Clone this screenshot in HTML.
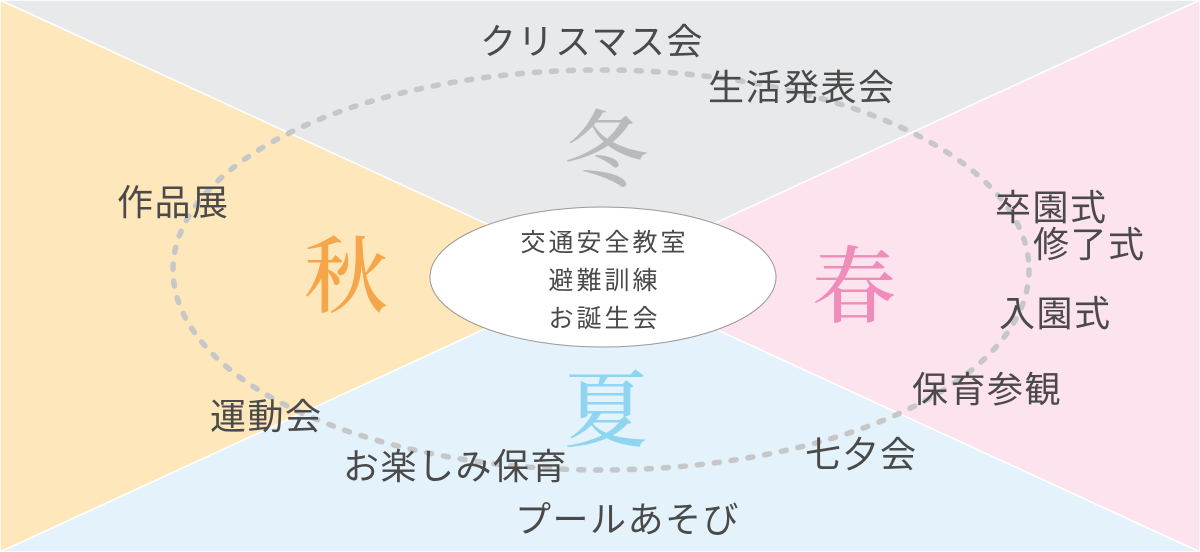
<!DOCTYPE html>
<html><head><meta charset="utf-8">
<style>
html,body{margin:0;padding:0;}
body{width:1200px;height:552px;position:relative;overflow:hidden;font-family:"Liberation Sans","Noto Sans CJK JP",sans-serif;color:#4a4a4a;}
.l{position:absolute;font-size:36px;line-height:40px;white-space:nowrap;letter-spacing:1.5px;}
.s{position:absolute;font-family:"Noto Serif CJK SC","Noto Serif CJK JP",serif;font-size:84px;line-height:90px;font-weight:500;}
.c{position:absolute;left:430px;top:207px;width:346px;height:140px;text-align:center;font-size:25px;line-height:38px;letter-spacing:3px;box-sizing:border-box;padding-top:17px;padding-left:3px;}
</style></head><body>
<svg width="1200" height="552" style="position:absolute;left:0;top:0">
<polygon points="0,0 1200,0 600,276" fill="#e8e9eb" stroke="#fff" stroke-width="1.5"/>
<polygon points="0,0 600,276 0,552" fill="#fde7bb" stroke="#fff" stroke-width="1.5"/>
<polygon points="1200,0 1200,552 600,276" fill="#fce3ee" stroke="#fff" stroke-width="1.5"/>
<polygon points="0,552 600,276 1200,552" fill="#e4f3fb" stroke="#fff" stroke-width="1.5"/>
<ellipse cx="601" cy="270" rx="428" ry="200" fill="none" stroke="#c6c7c9" stroke-width="5.5" stroke-linecap="round" stroke-dasharray="5 12"/>
<ellipse cx="603" cy="277" rx="173" ry="70" fill="#fff" stroke="#999" stroke-width="1"/>
</svg>
<div class="s" style="left:564px;top:100px;color:#b9babc">冬</div>
<div class="s" style="left:304px;top:226px;color:#f5a54a">秋</div>
<div class="s" style="left:812px;top:236px;color:#f08cba">春</div>
<div class="s" style="left:564px;top:360px;color:#8fd5f2">夏</div>
<div class="c">交通安全教室<br>避難訓練<br>お誕生会</div>
<div class="l" style="left:480px;top:22px">クリスマス会</div>
<div class="l" style="left:708px;top:68px">生活発表会</div>
<div class="l" style="left:117px;top:183px">作品展</div>
<div class="l" style="left:995px;top:188px">卒園式</div>
<div class="l" style="left:1033px;top:225px">修了式</div>
<div class="l" style="left:999px;top:294px">入園式</div>
<div class="l" style="left:912px;top:370px">保育参観</div>
<div class="l" style="left:805px;top:435px">七夕会</div>
<div class="l" style="left:515px;top:500px">プールあそび</div>
<div class="l" style="left:343px;top:447px">お楽しみ保育</div>
<div class="l" style="left:210px;top:397px">運動会</div>
</body></html>
